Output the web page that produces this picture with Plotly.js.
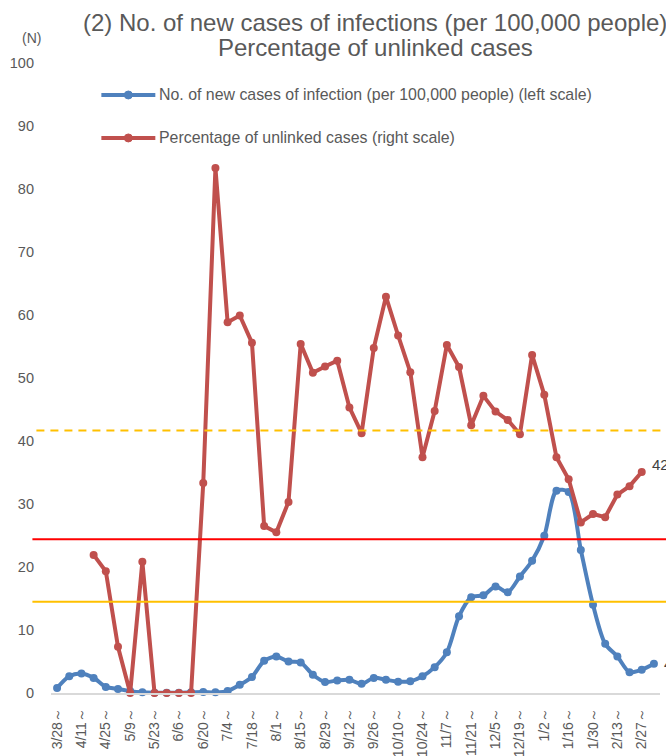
<!DOCTYPE html>
<html>
<head>
<meta charset="utf-8">
<script src="https://cdn.plot.ly/plotly-3.0.1.min.js"></script>
<style>
html,body{margin:0;padding:0;background:#fff;}
#chart{width:666px;height:756px;}
</style>
</head>
<body>
<div id="chart"></div>
<script>
// Weekly categories (week starting)
const weeks = ["3/28","4/4","4/11","4/18","4/25","5/2","5/9","5/16","5/23","5/30",
  "6/6","6/13","6/20","6/27","7/4","7/11","7/18","7/25","8/1","8/8",
  "8/15","8/22","8/29","9/5","9/12","9/19","9/26","10/3","10/10","10/17",
  "10/24","10/31","11/7","11/14","11/21","11/28","12/5","12/12","12/19","12/26",
  "1/2","1/9","1/16","1/23","1/30","2/6","2/13","2/20","2/27","3/6"];

// Tick labels shown (every other week)
const tickWeeks = ["3/28","4/11","4/25","5/9","5/23","6/6","6/20","7/4","7/18","8/1",
  "8/15","8/29","9/12","9/26","10/10","10/24","11/7","11/21","12/5","12/19",
  "1/2","1/16","1/30","2/13","2/27"];

// No. of new cases of infection per 100,000 people (left scale)
const newCasesPer100k = [0.81, 2.67, 3.1, 2.4, 0.97, 0.65, 0.3, 0.1, 0.05, 0.05,
  0.05, 0.1, 0.15, 0.1, 0.3, 1.3, 2.55, 5.1, 5.8, 5.0,
  4.85, 2.9, 1.75, 2.0, 2.1, 1.45, 2.4, 2.1, 1.8, 1.85,
  2.65, 4.1, 6.45, 12.2, 15.2, 15.5, 16.9, 16.0, 18.5, 21.0,
  24.95, 32.1, 31.9, 22.7, 14.0, 7.8, 5.8, 3.3, 3.7, 4.65];

// Percentage of unlinked cases (right scale, %)
const unlinkedPct = [null, null, null, 26.3, 23.2, 8.8, 0, 25.0, 0, 0,
  0, 0, 40.0, 100, 70.6, 71.9, 66.7, 31.8, 30.6, 36.4,
  66.5, 61.0, 62.2, 63.3, 54.4, 49.5, 65.7, 75.5, 68.1, 61.1,
  44.9, 53.7, 66.3, 62.1, 51.0, 56.6, 53.6, 52.0, 49.3, 64.4,
  56.8, 44.9, 40.7, 32.5, 34.1, 33.5, 37.8, 39.4, 42.1, null];

// Reference lines
const leftLines = [24.4, 14.5];          // left scale
const leftLineColors = ["#FF0000", "#FFC000"];
const rightDashedLine = 50;              // right scale (%)

const titleLines = ["(2) No. of new cases of infections (per 100,000 people)", "Percentage of unlinked cases"];
const seriesNames = ["No. of new cases of infection (per 100,000 people) (left scale)",
                     "Percentage of unlinked cases (right scale)"];

const BLUE = "#4F81BD", RED = "#C0504D", GREY = "#595959";
const FONT = "Liberation Sans, Arial, sans-serif";

// pixel geometry helpers (plot area)
const W = 666, H = 756;
const L = 50.6, R = 660, T = 63, B = 693.3;
const px = x => (x - L) / (R - L);
const py = y => (B - y) / (B - T);

const traces = [
  {
    x: weeks, y: newCasesPer100k, type: "scatter", mode: "lines+markers",
    name: seriesNames[0], yaxis: "y",
    line: {color: BLUE, width: 4, shape: "spline", smoothing: 0.8},
    marker: {color: BLUE, size: 8},
    showlegend: false, cliponaxis: false
  },
  {
    x: weeks, y: unlinkedPct, type: "scatter", mode: "lines+markers",
    name: seriesNames[1], yaxis: "y2",
    line: {color: RED, width: 4},
    marker: {color: RED, size: 8},
    connectgaps: false, showlegend: false, cliponaxis: false
  }
];

const shapes = [];
leftLines.forEach((v, i) => {
  shapes.push({type: "line", xref: "paper", yref: "y", x0: px(32), x1: 1.05, y0: v, y1: v,
    line: {color: leftLineColors[i], width: 2}, layer: "above"});
});
shapes.push({type: "line", xref: "paper", yref: "y2", x0: px(36), x1: 1.05, y0: rightDashedLine, y1: rightDashedLine,
  line: {color: "#FFC000", width: 2, dash: "8px,6px"}, layer: "above"});

// custom legend samples
const legendY = [95, 138];
const legendColors = [BLUE, RED];
legendY.forEach((yy, i) => {
  shapes.push({type: "line", xref: "paper", yref: "paper", x0: px(101), x1: px(155), y0: py(yy), y1: py(yy),
    line: {color: legendColors[i], width: 4}});
  shapes.push({type: "circle", xref: "paper", yref: "paper", x0: px(124), x1: px(132), y0: py(yy + 4), y1: py(yy - 4),
    fillcolor: legendColors[i], line: {color: legendColors[i], width: 1}});
});

const lastRed = unlinkedPct.filter(v => v !== null);
const lastRedIdx = unlinkedPct.lastIndexOf(lastRed[lastRed.length - 1]);
const annotations = [
  {text: titleLines[0], xref: "paper", yref: "paper", x: px(375), y: py(22), xanchor: "center", yanchor: "middle",
   showarrow: false, font: {family: FONT, size: 24, color: GREY}},
  {text: titleLines[1], xref: "paper", yref: "paper", x: px(375), y: py(47), xanchor: "center", yanchor: "middle",
   showarrow: false, font: {family: FONT, size: 24, color: GREY}},
  {text: "(N)", xref: "paper", yref: "paper", x: px(31), y: py(38), xanchor: "center", yanchor: "middle",
   showarrow: false, font: {family: FONT, size: 14, color: GREY}},
  {text: seriesNames[0], xref: "paper", yref: "paper", x: px(157), y: py(95), xanchor: "left", yanchor: "middle",
   showarrow: false, font: {family: FONT, size: 15.9, color: GREY}},
  {text: seriesNames[1], xref: "paper", yref: "paper", x: px(157), y: py(138), xanchor: "left", yanchor: "middle",
   showarrow: false, font: {family: FONT, size: 15.9, color: GREY}},
  {text: unlinkedPct[lastRedIdx].toFixed(1) + "%", xref: "x", yref: "y2", x: weeks[lastRedIdx], y: unlinkedPct[lastRedIdx],
   xanchor: "left", yanchor: "middle", xshift: 8, yshift: 7, showarrow: false, font: {family: FONT, size: 15, color: "#404040"}},
  {text: newCasesPer100k[weeks.length - 1].toFixed(1), xref: "x", yref: "y", x: weeks[weeks.length - 1], y: newCasesPer100k[weeks.length - 1],
   xanchor: "left", yanchor: "middle", xshift: 8, showarrow: false, font: {family: FONT, size: 15, color: "#404040"}}
];

const layout = {
  width: W, height: H,
  margin: {l: L, r: W - R, t: T, b: H - B, pad: 0},
  paper_bgcolor: "#fff", plot_bgcolor: "#fff",
  showlegend: false,
  font: {family: FONT, color: GREY},
  xaxis: {
    type: "category", categoryorder: "array", categoryarray: weeks,
    range: [-0.5, weeks.length - 0.5],
    tickmode: "array", tickvals: tickWeeks, ticktext: tickWeeks.map(w => w + "～"),
    tickangle: -90, tickfont: {family: FONT, size: 14, color: GREY},
    showgrid: false, zeroline: false, showline: true, linecolor: "#D9D9D9", linewidth: 1.5,
    ticks: "", ticklabelstandoff: 8, fixedrange: true
  },
  yaxis: {
    range: [0, 100], tickmode: "linear", tick0: 0, dtick: 10,
    tickfont: {family: FONT, size: 14.5, color: GREY},
    showgrid: false, zeroline: false, showline: false, ticks: "", ticklabelstandoff: 16
  },
  yaxis2: {
    range: [0, 120], overlaying: "y", side: "right", visible: false, showgrid: false, zeroline: false
  },
  shapes: shapes,
  annotations: annotations
};

Plotly.newPlot("chart", traces, layout, {displayModeBar: false, staticPlot: true});
</script>
</body>
</html>
